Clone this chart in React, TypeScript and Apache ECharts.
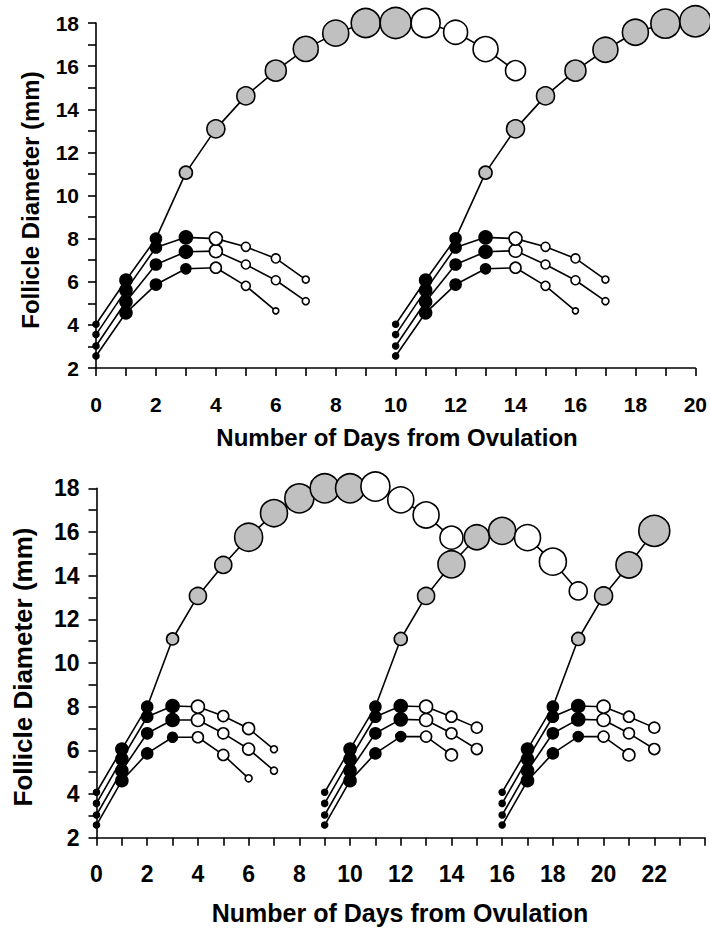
import React, { useEffect, useRef } from "react";
import * as echarts from "echarts";

// ---------------- DATA ----------------
// Tick labels
const yTickLabels = [2, 4, 6, 8, 10, 12, 14, 16, 18];
const topXTickLabels = [0, 2, 4, 6, 8, 10, 12, 14, 16, 18, 20];
const botXTickLabels = [0, 2, 4, 6, 8, 10, 12, 14, 16, 18, 20, 22];

// Top panel (two waves). Each follicle: first day + diameters (mm) by day
const topDom1Start = 0;
const topDom1 = [4.03, 6.07, 8.0, 11.06, 13.09, 14.62, 15.79, 16.8, 17.53, 18.0, 18.0, 18.0, 17.57, 16.79, 15.79];
const topDom2Start = 10;
const topDom2 = [4.03, 6.07, 8.01, 11.06, 13.09, 14.62, 15.79, 16.76, 17.57, 17.97, 18.08];

const topSub1Start = 0;
const topSub1a = [3.55, 5.61, 7.59, 8.06, 8.0, 7.62, 7.08, 6.1];
const topSub1b = [3.02, 5.07, 6.8, 7.39, 7.42, 6.8, 6.07, 5.1];
const topSub1c = [2.56, 4.56, 5.87, 6.6, 6.65, 5.81, 4.65];
const topSub2Start = 10;
const topSub2a = [3.55, 5.61, 7.59, 8.06, 8.0, 7.62, 7.08, 6.1];
const topSub2b = [3.02, 5.07, 6.8, 7.39, 7.44, 6.8, 6.07, 5.1];
const topSub2c = [2.56, 4.56, 5.87, 6.6, 6.65, 5.81, 4.65];

// Bottom panel (three waves)
const botDom1Start = 0;
const botDom1 = [4.08, 6.06, 8.0, 11.1, 13.07, 14.49, 15.76, 16.86, 17.54, 18.0, 18.0, 18.08, 17.47, 16.78, 15.74];
const botDom2Start = 9;
const botDom2 = [4.08, 6.06, 8.0, 11.1, 13.07, 14.52, 15.76, 16.05, 15.74, 14.64, 13.3];
const botDom3Start = 16;
const botDom3 = [4.08, 6.06, 8.0, 11.1, 13.07, 14.49, 16.05];

const botSub1Start = 0;
const botSub1a = [3.57, 5.6, 7.54, 8.03, 8.0, 7.57, 7.0, 6.05];
const botSub1b = [3.04, 5.07, 6.78, 7.39, 7.39, 6.78, 6.06, 5.07];
const botSub1c = [2.58, 4.61, 5.86, 6.6, 6.6, 5.79, 4.72];
const botSub2Start = 9;
const botSub2a = [3.57, 5.6, 7.54, 8.03, 8.0, 7.54, 7.04];
const botSub2b = [3.04, 5.07, 6.78, 7.42, 7.39, 6.78, 6.06];
const botSub2c = [2.58, 4.61, 5.86, 6.63, 6.63, 5.79];
const botSub3Start = 16;
const botSub3a = [3.57, 5.6, 7.54, 8.03, 8.0, 7.54, 7.04];
const botSub3b = [3.04, 5.07, 6.78, 7.42, 7.39, 6.78, 6.06];
const botSub3c = [2.58, 4.61, 5.86, 6.63, 6.63, 5.79];

// ---------------- STYLE ----------------
const FONT = "'Liberation Sans', Arial, Helvetica, sans-serif";
const GREY = "#c0c0c0";

// marker diameters (px), per point
const sz = {
  topDom1: [6, 12, 11, 13, 18, 18, 21, 25, 26, 29, 31, 29, 24, 25, 20],
  topDom2: [6, 12, 11, 13, 18, 18, 21, 25, 26, 29, 31],
  topSubA: [6, 12, 11, 13, 13, 9, 9, 7],
  topSubB: [6, 12, 11, 13, 13, 9, 9, 7],
  topSubC: [6, 12, 11, 10, 11, 9, 6],
  botDom1: [6, 12, 11, 12, 17, 17, 28, 27, 29, 29, 29, 29, 26, 26, 23],
  botDom2: [6, 12, 11, 13, 17, 27, 25, 27, 26, 27, 18],
  botDom3: [6, 12, 11, 13, 18, 26, 31],
  botSub1A: [6, 12, 11, 13, 13, 11, 12, 7],
  botSub1B: [6, 12, 11, 13, 13, 11, 12, 7],
  botSub1C: [6, 12, 11, 10, 11, 11, 7],
  botSubA: [6, 12, 11, 13, 13, 11, 11],
  botSubB: [6, 12, 11, 13, 13, 11, 11],
  botSubC: [6, 12, 11, 10, 11, 12],
};

type Spec = {
  start: number;
  values: number[];
  sizes: number[];
  black: number;
  grey: number;
};

function makeSeries(s: Spec, axis: number, z: number) {
  const data = s.values.map((v, i) => {
    const color = i < s.black ? "#000" : i < s.black + s.grey ? GREY : "#fff";
    return {
      value: [s.start + i, v],
      symbolSize: s.sizes[i],
      itemStyle: { color, borderColor: "#000", borderWidth: 1.6 },
    };
  });
  return {
    type: "line",
    xAxisIndex: axis,
    yAxisIndex: axis,
    data,
    symbol: "circle",
    showSymbol: true,
    showAllSymbol: true,
    clip: false,
    lineStyle: { color: "#000", width: 1.6 },
    emphasis: { disabled: true },
    silent: true,
    z,
  };
}

function axisCommon(fontSize: number) {
  return {
    axisLine: { show: true, onZero: false, lineStyle: { color: "#000", width: 1.6 } },
    axisTick: { show: true, length: 8, lineStyle: { color: "#000", width: 1.6 } },
    splitLine: { show: false },
    axisLabel: {
      color: "#000",
      fontFamily: FONT,
      fontWeight: "bold" as const,
      fontSize,
      showMinLabel: true,
      showMaxLabel: true,
    },
  };
}

export default function App() {
  const ref = useRef<HTMLDivElement>(null);

  useEffect(() => {
    if (!ref.current) return;
    const chart = echarts.init(ref.current, undefined, { renderer: "svg" });

    const yLabelFmt = (v: number) => (yTickLabels.includes(v) ? String(v) : "");
    const topXFmt = (v: number) => (topXTickLabels.includes(v) ? String(v) : "");
    const botXFmt = (v: number) => (botXTickLabels.includes(v) ? String(v) : "");

    const tA = axisCommon(21);
    const bA = axisCommon(23);

    const series = [
      makeSeries({ start: topSub1Start, values: topSub1c, sizes: sz.topSubC, black: 4, grey: 0 }, 0, 2),
      makeSeries({ start: topSub1Start, values: topSub1b, sizes: sz.topSubB, black: 4, grey: 0 }, 0, 2),
      makeSeries({ start: topSub1Start, values: topSub1a, sizes: sz.topSubA, black: 4, grey: 0 }, 0, 2),
      makeSeries({ start: topSub2Start, values: topSub2c, sizes: sz.topSubC, black: 4, grey: 0 }, 0, 2),
      makeSeries({ start: topSub2Start, values: topSub2b, sizes: sz.topSubB, black: 4, grey: 0 }, 0, 2),
      makeSeries({ start: topSub2Start, values: topSub2a, sizes: sz.topSubA, black: 4, grey: 0 }, 0, 2),
      makeSeries({ start: topDom1Start, values: topDom1, sizes: sz.topDom1, black: 3, grey: 8 }, 0, 3),
      makeSeries({ start: topDom2Start, values: topDom2, sizes: sz.topDom2, black: 3, grey: 8 }, 0, 3),

      makeSeries({ start: botSub1Start, values: botSub1c, sizes: sz.botSub1C, black: 4, grey: 0 }, 1, 2),
      makeSeries({ start: botSub1Start, values: botSub1b, sizes: sz.botSub1B, black: 4, grey: 0 }, 1, 2),
      makeSeries({ start: botSub1Start, values: botSub1a, sizes: sz.botSub1A, black: 4, grey: 0 }, 1, 2),
      makeSeries({ start: botSub2Start, values: botSub2c, sizes: sz.botSubC, black: 4, grey: 0 }, 1, 2),
      makeSeries({ start: botSub2Start, values: botSub2b, sizes: sz.botSubB, black: 4, grey: 0 }, 1, 2),
      makeSeries({ start: botSub2Start, values: botSub2a, sizes: sz.botSubA, black: 4, grey: 0 }, 1, 2),
      makeSeries({ start: botSub3Start, values: botSub3c, sizes: sz.botSubC, black: 4, grey: 0 }, 1, 2),
      makeSeries({ start: botSub3Start, values: botSub3b, sizes: sz.botSubB, black: 4, grey: 0 }, 1, 2),
      makeSeries({ start: botSub3Start, values: botSub3a, sizes: sz.botSubA, black: 4, grey: 0 }, 1, 2),
      makeSeries({ start: botDom1Start, values: botDom1, sizes: sz.botDom1, black: 3, grey: 8 }, 1, 3),
      makeSeries({ start: botDom2Start, values: botDom2, sizes: sz.botDom2, black: 3, grey: 5 }, 1, 4),
      makeSeries({ start: botDom3Start, values: botDom3, sizes: sz.botDom3, black: 3, grey: 4 }, 1, 5),
    ];

    chart.setOption({
      animation: false,
      backgroundColor: "#fff",
      grid: [
        { left: 96, top: 23, width: 601.5, height: 345 },
        { left: 96.5, top: 488.3, width: 608.5, height: 349.4 },
      ],
      xAxis: [
        {
          type: "value", gridIndex: 0, min: 0, max: 20, interval: 1,
          ...tA,
          axisLabel: { ...tA.axisLabel, margin: 26, formatter: topXFmt },
        },
        {
          type: "value", gridIndex: 1, min: 0, max: 24, interval: 1,
          ...bA,
          axisLabel: { ...bA.axisLabel, margin: 25, formatter: botXFmt },
        },
      ],
      yAxis: [
        {
          type: "value", gridIndex: 0, min: 2, max: 18, interval: 1,
          ...tA,
          axisLabel: { ...tA.axisLabel, margin: 17, formatter: yLabelFmt },
        },
        {
          type: "value", gridIndex: 1, min: 2, max: 18, interval: 1,
          ...bA,
          axisLabel: { ...bA.axisLabel, margin: 17, formatter: yLabelFmt },
        },
      ],
      graphic: [
        {
          type: "text", x: 30, y: 200, rotation: Math.PI / 2,
          style: { text: "Follicle Diameter (mm)", font: `bold 24px ${FONT}`, fill: "#000", align: "center", verticalAlign: "middle" },
        },
        {
          type: "text", x: 397, y: 437,
          style: { text: "Number of Days from Ovulation", font: `bold 24px ${FONT}`, fill: "#000", align: "center", verticalAlign: "middle" },
        },
        {
          type: "text", x: 23, y: 667, rotation: Math.PI / 2,
          style: { text: "Follicle Diameter (mm)", font: `bold 26px ${FONT}`, fill: "#000", align: "center", verticalAlign: "middle" },
        },
        {
          type: "text", x: 400, y: 913,
          style: { text: "Number of Days from Ovulation", font: `bold 25px ${FONT}`, fill: "#000", align: "center", verticalAlign: "middle" },
        },
      ],
      series,
    });

    return () => chart.dispose();
  }, []);

  return (
    <div
      ref={ref}
      style={{ position: "absolute", left: 0, top: 0, width: 710, height: 930, background: "#fff" }}
    />
  );
}
